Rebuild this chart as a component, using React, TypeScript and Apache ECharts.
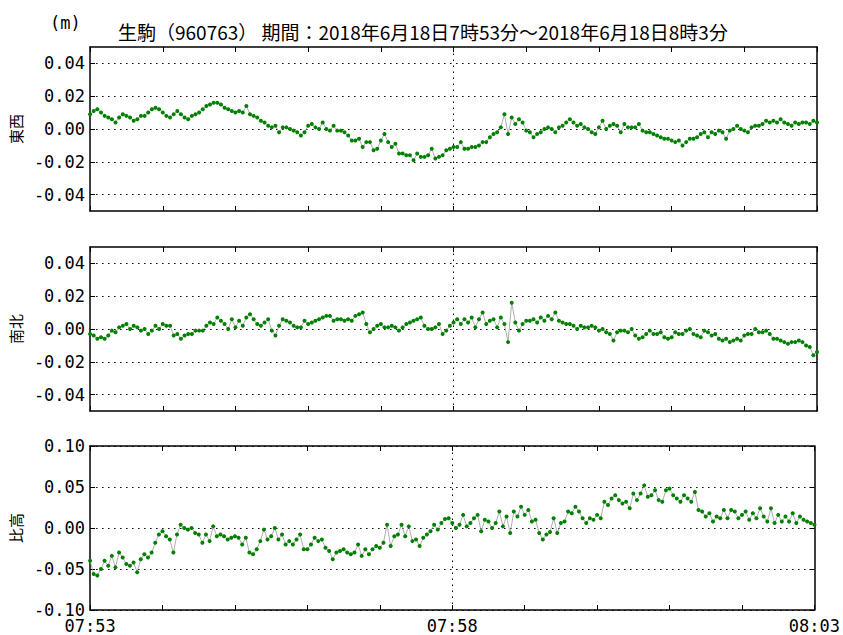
import React, { useEffect, useRef } from "react";
import * as echarts from "echarts";

// ---- data (sampled every 3 seconds from 07:53:00 to 08:03:00) ----
const STEP_SECONDS = 3;
const X_MAX_SECONDS = 600;
const X_TICK_SECONDS = 60;
const X_TICK_LABELS = ["07:53", "", "", "", "", "07:58", "", "", "", "", "08:03"];
const SMALL_Y_LABELS = [-0.04, -0.02, 0, 0.02, 0.04];
const HEIGHT_Y_LABELS = [-0.1, -0.05, 0, 0.05, 0.1];
const PANEL_NAMES = ["東西", "南北", "比高"];
const TITLE = "生駒（960763） 期間：2018年6月18日7時53分～2018年6月18日8時3分";
const UNIT = "(m)";
const MID_TIME_SECONDS = 300;

const EAST_WEST = [
  0.009, 0.011, 0.012, 0.010, 0.008, 0.007, 0.006, 0.004, 0.007, 0.009,
  0.008, 0.007, 0.005, 0.006, 0.008, 0.008, 0.010, 0.012, 0.013, 0.012,
  0.010, 0.008, 0.007, 0.009, 0.011, 0.009, 0.007, 0.006, 0.008, 0.009,
  0.010, 0.012, 0.014, 0.015, 0.016, 0.016, 0.015, 0.013, 0.012, 0.011,
  0.010, 0.011, 0.010, 0.014, 0.009, 0.008, 0.007, 0.005, 0.004, 0.002,
  0.001, 0.002, -0.002, 0.001, 0.001, 0.000, -0.001, -0.002, -0.004, -0.002,
  0.002, 0.003, 0.001, 0.000, 0.004, 0.000, -0.001, 0.002, -0.001, -0.001,
  -0.002, -0.004, -0.007, -0.007, -0.006, -0.011, -0.008, -0.008, -0.013, -0.012,
  -0.007, -0.003, -0.008, -0.011, -0.009, -0.015, -0.015, -0.016, -0.016, -0.019,
  -0.015, -0.017, -0.017, -0.016, -0.012, -0.018, -0.017, -0.016, -0.013, -0.012,
  -0.011, -0.011, -0.008, -0.012, -0.012, -0.011, -0.011, -0.010, -0.008, -0.008,
  -0.005, -0.003, -0.002, 0.001, 0.009, -0.003, 0.007, 0.003, 0.006, 0.004,
  -0.001, -0.002, -0.005, -0.003, -0.002, 0.000, 0.001, 0.000, -0.002, 0.001,
  0.002, 0.004, 0.006, 0.004, 0.002, 0.003, 0.001, 0.000, -0.002, -0.003,
  0.001, 0.005, 0.000, 0.002, 0.003, 0.002, -0.002, 0.003, 0.001, 0.001,
  0.001, 0.003, -0.001, -0.002, -0.002, -0.003, -0.004, -0.005, -0.006, -0.006,
  -0.007, -0.008, -0.007, -0.010, -0.008, -0.006, -0.006, -0.005, -0.003, -0.002,
  -0.005, -0.002, -0.003, -0.001, -0.002, -0.006, -0.001, 0.000, 0.002, 0.000,
  -0.001, -0.002, 0.001, 0.002, 0.002, 0.003, 0.005, 0.004, 0.005, 0.004,
  0.006, 0.004, 0.003, 0.002, 0.004, 0.003, 0.004, 0.004, 0.003, 0.005,
  0.004,
];

const NORTH_SOUTH = [
  -0.003, -0.004, -0.006, -0.005, -0.006, -0.004, -0.001, -0.002, 0.001, 0.002,
  0.003, 0.000, 0.002, 0.001, -0.001, 0.000, -0.003, -0.001, 0.002, 0.000,
  0.003, 0.002, 0.002, -0.004, -0.003, -0.006, -0.004, -0.003, -0.003, -0.001,
  -0.001, -0.001, 0.002, 0.004, 0.003, 0.007, 0.005, 0.003, 0.000, 0.006,
  0.001, 0.005, 0.002, 0.007, 0.009, 0.006, 0.003, 0.002, 0.004, 0.006,
  -0.001, -0.004, 0.002, 0.006, 0.005, 0.004, 0.002, 0.001, 0.001, 0.005,
  0.003, 0.004, 0.005, 0.006, 0.007, 0.008, 0.008, 0.005, 0.006, 0.006,
  0.005, 0.006, 0.005, 0.008, 0.009, 0.010, 0.003, -0.002, 0.000, 0.002,
  0.003, 0.001, 0.001, 0.002, 0.001, -0.001, 0.001, 0.003, 0.004, 0.005,
  0.006, 0.007, 0.002, 0.000, 0.000, 0.001, 0.003, -0.003, -0.001, 0.002,
  0.004, 0.006, 0.003, 0.006, 0.004, 0.007, 0.001, 0.006, 0.010, 0.003,
  0.005, 0.006, 0.001, 0.007, 0.003, -0.008, 0.016, 0.004, -0.001, 0.003,
  0.005, 0.005, 0.006, 0.004, 0.007, 0.005, 0.008, 0.006, 0.010, 0.005,
  0.004, 0.003, 0.003, 0.002, 0.000, 0.002, 0.001, 0.001, 0.002, 0.001,
  -0.001, 0.000, -0.002, -0.003, -0.007, -0.002, -0.001, -0.001, -0.002, 0.000,
  -0.004, -0.006, -0.005, -0.003, -0.001, -0.003, -0.003, -0.002, -0.005, -0.006,
  -0.005, -0.002, -0.003, -0.003, -0.001, 0.000, -0.003, -0.004, -0.005, -0.001,
  -0.002, -0.004, -0.003, -0.006, -0.007, -0.006, -0.008, -0.007, -0.006, -0.007,
  -0.004, -0.003, -0.003, 0.000, -0.002, -0.002, -0.001, -0.003, -0.006, -0.006,
  -0.007, -0.008, -0.009, -0.008, -0.008, -0.007, -0.008, -0.010, -0.011, -0.016,
  -0.014,
];

const HEIGHT = [
  -0.040, -0.056, -0.058, -0.050, -0.040, -0.046, -0.034, -0.048, -0.030, -0.036,
  -0.044, -0.046, -0.042, -0.054, -0.038, -0.032, -0.036, -0.030, -0.018, -0.008,
  -0.004, -0.010, -0.014, -0.030, -0.008, 0.004, 0.000, -0.002, 0.000, -0.006,
  -0.008, -0.018, -0.008, -0.016, 0.002, -0.010, -0.008, -0.010, -0.014, -0.012,
  -0.010, -0.012, -0.020, -0.012, -0.030, -0.032, -0.026, -0.016, -0.002, -0.014,
  -0.010, 0.000, -0.014, -0.008, -0.020, -0.016, -0.020, -0.014, -0.008, -0.026,
  -0.026, -0.020, -0.012, -0.016, -0.014, -0.024, -0.028, -0.038, -0.030, -0.028,
  -0.026, -0.030, -0.032, -0.030, -0.020, -0.034, -0.026, -0.032, -0.026, -0.022,
  -0.024, -0.018, 0.004, -0.022, -0.010, -0.008, 0.004, -0.010, 0.002, -0.016,
  -0.014, -0.022, -0.012, -0.008, -0.004, 0.004, -0.002, 0.006, 0.011, 0.012,
  0.006, 0.000, 0.004, 0.016, 0.002, 0.006, 0.012, 0.016, -0.004, 0.010,
  0.008, 0.000, 0.006, 0.020, 0.002, 0.014, -0.006, 0.020, 0.014, 0.026,
  0.016, 0.022, 0.008, 0.010, -0.006, -0.014, -0.008, -0.005, 0.012, -0.006,
  0.006, 0.008, 0.020, 0.018, 0.026, 0.020, 0.012, 0.006, 0.012, 0.010,
  0.016, 0.012, 0.032, 0.028, 0.036, 0.040, 0.034, 0.030, 0.032, 0.024,
  0.042, 0.034, 0.042, 0.052, 0.038, 0.040, 0.046, 0.034, 0.032, 0.046,
  0.048, 0.040, 0.036, 0.032, 0.040, 0.036, 0.032, 0.044, 0.022, 0.020,
  0.014, 0.018, 0.008, 0.014, 0.012, 0.022, 0.012, 0.022, 0.020, 0.012,
  0.016, 0.020, 0.010, 0.018, 0.012, 0.024, 0.014, 0.008, 0.024, 0.006,
  0.016, 0.008, 0.014, 0.008, 0.018, 0.006, 0.014, 0.010, 0.008, 0.006,
  0.004,
];

// ---- layout / style ----
const FONT = '"Noto Sans CJK JP", "Noto Sans", sans-serif';
const NUM_FONT = '"DejaVu Sans Mono", "Liberation Mono", monospace';
const GRID_LEFT = 88;
const GRID_RIGHT = 26;
const GRID_TOPS = [47, 247, 446];
const GRID_HEIGHT = 164;
const DOTTED: number[] = [1.5, 4.5];

const PANELS = [
  { name: PANEL_NAMES[0], values: EAST_WEST, min: -0.05, max: 0.05, labels: SMALL_Y_LABELS },
  { name: PANEL_NAMES[1], values: NORTH_SOUTH, min: -0.05, max: 0.05, labels: SMALL_Y_LABELS },
  { name: PANEL_NAMES[2], values: HEIGHT, min: -0.1, max: 0.1, labels: HEIGHT_Y_LABELS },
];

function buildOption() {
  const grid: any[] = [];
  const xAxis: any[] = [];
  const yAxis: any[] = [];
  const series: any[] = [];
  const axisLine = { show: true, onZero: false, lineStyle: { color: "#000", width: 1.5 } };

  PANELS.forEach((p, i) => {
    grid.push({ left: GRID_LEFT, right: GRID_RIGHT, top: GRID_TOPS[i], height: GRID_HEIGHT, containLabel: false });
    const xCommon = {
      gridIndex: i,
      type: "value",
      min: 0,
      max: X_MAX_SECONDS,
      interval: X_TICK_SECONDS,
      axisLine,
      axisTick: { show: true, inside: true, length: 5, lineStyle: { color: "#000", width: 1 } },
      splitLine: { show: false },
    };
    xAxis.push({
      ...xCommon,
      position: "bottom",
      axisLabel: {
        show: i === PANELS.length - 1,
        formatter: (v: number) => X_TICK_LABELS[Math.round(v / X_TICK_SECONDS)] ?? "",
        fontFamily: NUM_FONT,
        fontSize: 17,
        lineHeight: 15,
        color: "#000",
        margin: 8,
        showMinLabel: true,
        showMaxLabel: true,
      },
    });
    xAxis.push({ ...xCommon, position: "top", axisLabel: { show: false } });

    const yCommon = {
      gridIndex: i,
      type: "value",
      min: p.min,
      max: p.max,
      axisLine,
    };
    yAxis.push({
      ...yCommon,
      position: "left",
      name: p.name,
      nameLocation: "middle",
      nameGap: 62,
      nameRotate: 90,
      nameTextStyle: { fontFamily: FONT, fontSize: 15, color: "#000" },
      axisTick: { show: true, inside: true, length: 5, customValues: p.labels, lineStyle: { color: "#000", width: 1 } },
      axisLabel: {
        show: true,
        customValues: p.labels,
        formatter: (v: number) => v.toFixed(2),
        fontFamily: NUM_FONT,
        fontSize: 17,
        lineHeight: 14,
        color: "#000",
        margin: 5,
      },
      splitLine: { show: true, lineStyle: { color: "#000", width: 1, type: DOTTED } },
    });
    yAxis.push({
      ...yCommon,
      position: "right",
      axisTick: { show: true, inside: true, length: 5, customValues: p.labels, lineStyle: { color: "#000", width: 1 } },
      axisLabel: { show: false },
      splitLine: { show: false },
    });

    series.push({
      type: "line",
      xAxisIndex: i * 2,
      yAxisIndex: i * 2,
      data: p.values.map((v, j) => [j * STEP_SECONDS, v]),
      symbol: "circle",
      symbolSize: 4,
      showAllSymbol: true,
      itemStyle: { color: "#008000", borderWidth: 0 },
      lineStyle: { color: "#999999", width: 0.8 },
      z: 3,
      markLine: {
        silent: true,
        symbol: ["none", "none"],
        z: 1,
        label: { show: false },
        lineStyle: { color: "#000", width: 1, type: DOTTED },
        data: [{ xAxis: MID_TIME_SECONDS }],
      },
    });
  });

  return {
    animation: false,
    backgroundColor: "#ffffff",
    textStyle: { fontFamily: FONT },
    grid,
    xAxis,
    yAxis,
    series,
    graphic: [
      {
        type: "text",
        style: { x: 118, y: 31, text: TITLE, font: `19px ${FONT}`, fill: "#000", verticalAlign: "middle" },
      },
      {
        type: "text",
        style: { x: 50, y: 23, text: UNIT, font: `17px ${NUM_FONT}`, fill: "#000", verticalAlign: "middle" },
      },
    ],
  };
}

export default function App() {
  const ref = useRef<HTMLDivElement>(null);
  useEffect(() => {
    if (!ref.current) return;
    const chart = echarts.init(ref.current, undefined, { renderer: "svg" });
    chart.setOption(buildOption() as any);
    return () => chart.dispose();
  }, []);
  return (
    <div
      ref={ref}
      style={{ position: "fixed", left: 0, top: 0, width: 843, height: 635, background: "#fff" }}
    />
  );
}
